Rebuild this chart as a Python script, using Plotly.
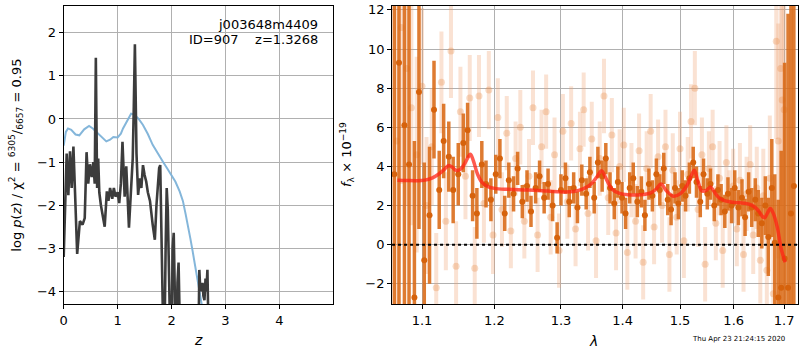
import math
import plotly.graph_objects as go

# ---------------- Left panel: log p(z) ----------------
pz_z = [0.00, 0.01, 0.03, 0.055, 0.086, 0.117, 0.148, 0.18, 0.21, 0.25, 0.30, 0.35, 0.39,
        0.424, 0.455, 0.486, 0.52, 0.55, 0.575, 0.588, 0.596, 0.606, 0.62, 0.64, 0.66, 0.69,
        0.72, 0.76, 0.80, 0.83, 0.86, 0.90, 0.93, 0.96, 1.00, 1.03, 1.06, 1.09, 1.13, 1.16,
        1.21, 1.25, 1.28, 1.30, 1.312, 1.32, 1.33, 1.35, 1.38, 1.41, 1.44, 1.47, 1.50, 1.53,
        1.56, 1.60, 1.65, 1.69, 1.72, 1.75, 1.77, 1.79, 1.81, 1.83, 1.86, 1.89, 1.91, 1.93,
        1.95, 1.99, 2.02, 2.04, 2.06, 2.08, 2.11, 2.13, 2.15, 2.17, 2.49, 2.515, 2.53, 2.545,
        2.56, 2.575, 2.59, 2.61, 2.63, 2.645, 2.665, 2.68, 2.70]
pz_logp = [-3.2, -2.8, -2.2, -0.8, -1.77, -0.75, -1.6, -0.64, -1.7, -3.13, -2.37, -2.45, -2.3,
           -0.77, -1.5, -1.05, -1.35, -1.0, -1.5, 0.2, 1.42, 0.1, -1.6, -0.92, -1.7, -2.0,
           -2.2, -2.5, -1.68, -1.9, -1.6, -1.85, -1.6, -1.8, -1.7, -1.95, -1.5, -0.53, -1.8, -1.1,
           -2.52, -1.45, -0.92, 0.3, 1.2, 1.73, 0.9, -0.8, -1.76, -1.38, -1.6, -1.07, -1.3, -1.45,
           -1.7, -1.9, -2.45, -2.8, -2.0, -1.4, -1.14, -1.07, -2.3, -6.0, -6.0, -3.0, -1.6, -2.1,
           -6.0, -6.0, -3.0, -2.64, -4.0, -6.0, -3.8, -3.33, -4.6, -6.0, -6.0, -3.5, -3.9, -3.8,
           -4.0, -3.8, -4.1, -4.2, -3.7, -4.0, -3.5, -5.0, -6.0]

prior_z = [0.00, 0.04, 0.08, 0.14, 0.22, 0.29, 0.38, 0.47, 0.54, 0.61, 0.70, 0.79, 0.86, 0.92,
           1.00, 1.06, 1.10, 1.18, 1.25, 1.31, 1.39, 1.47, 1.56, 1.65, 1.75, 1.84, 1.92, 1.99,
           2.07, 2.15, 2.21, 2.26, 2.30, 2.35, 2.39, 2.44, 2.48, 2.52, 2.56, 2.60]
prior_logp = [-0.62, -0.3, -0.22, -0.25, -0.36, -0.38, -0.24, -0.16, -0.22, -0.3, -0.4, -0.52,
              -0.48, -0.42, -0.43, -0.34, -0.22, -0.02, 0.12, 0.1, 0.0, -0.14, -0.35, -0.6,
              -0.82, -0.99, -1.15, -1.29, -1.45, -1.68, -1.9, -2.2, -2.5, -2.78, -3.06, -3.4,
              -3.75, -4.02, -4.3, -4.6]

# ---------------- Right panel: spectrum ----------------
model_wave = [1.068, 1.080, 1.092, 1.104, 1.114, 1.122, 1.130, 1.136, 1.141, 1.146, 1.152,
              1.158, 1.163, 1.166, 1.170, 1.176, 1.182, 1.190, 1.200, 1.220, 1.250, 1.280,
              1.300, 1.320, 1.335, 1.348, 1.358, 1.365, 1.372, 1.382, 1.395, 1.410, 1.430,
              1.448, 1.458, 1.466, 1.476, 1.488, 1.500, 1.512, 1.520, 1.526, 1.532, 1.540,
              1.548, 1.556, 1.562, 1.570, 1.580, 1.592, 1.605, 1.620, 1.635, 1.648, 1.656,
              1.661, 1.666, 1.672, 1.678, 1.686, 1.694, 1.702]
model_flux = [3.3, 3.28, 3.27, 3.3, 3.42, 3.6, 3.85, 4.05, 3.95, 3.8, 3.85, 4.15, 4.5, 4.62,
              4.3, 3.6, 3.2, 2.98, 2.88, 2.83, 2.8, 2.74, 2.7, 2.72, 2.85, 3.1, 3.5, 3.78, 3.4,
              2.85, 2.62, 2.55, 2.55, 2.65, 2.85, 3.1, 2.75, 2.48, 2.6, 3.0, 3.5, 3.8, 3.3, 2.75,
              2.78, 2.95, 2.75, 2.45, 2.28, 2.2, 2.15, 2.12, 2.02, 1.75, 1.45, 1.38, 1.6, 1.85,
              1.6, 0.9, -0.2, -0.9]

dark_wave = [1.064, 1.070, 1.077, 1.083, 1.090, 1.096, 1.103, 1.110, 1.116, 1.123, 1.129,
             1.136, 1.142, 1.149, 1.156, 1.162, 1.169, 1.175, 1.182, 1.188, 1.195, 1.202,
             1.208, 1.215, 1.221, 1.228, 1.234, 1.241, 1.248, 1.254, 1.261, 1.267, 1.274,
             1.280, 1.287, 1.294, 1.300, 1.307, 1.313, 1.320, 1.326, 1.333, 1.340, 1.346,
             1.353, 1.359, 1.366, 1.372, 1.379, 1.386, 1.392, 1.399, 1.405, 1.412, 1.418,
             1.425, 1.432, 1.438, 1.445, 1.451, 1.458, 1.464, 1.471, 1.478, 1.484, 1.491,
             1.497, 1.504, 1.510, 1.517, 1.524, 1.530, 1.537, 1.543, 1.550, 1.556, 1.563,
             1.570, 1.576, 1.583, 1.589, 1.596, 1.602, 1.609, 1.616, 1.622, 1.629, 1.635,
             1.642, 1.648, 1.655, 1.662, 1.668, 1.675, 1.681, 1.688, 1.694, 1.701, 1.708,
             1.714, 1.720]
dark_flux = [3.6, 9.3, 6.1, 4.1, -2.7, 7.8, -0.8, 1.5, 6.9, 2.8, 5.3, 4.5, 2.8, 3.6, 5.2,
             5.85, 2.5, 1.6, 4.1, 3.1, 2.3, 3.6, 4.4, 1.6, 3.3, 2.6, 3.9, 2.2, 3.0, 1.7, 2.9,
             3.5, 2.4, 3.1, 2.0, 0.35, 2.8, 3.4, 2.2, 2.9, 1.9, 3.3, 2.6, 3.7, 2.4, 4.2, 3.5,
             4.4, 2.9, 2.1, 3.2, 2.4, 1.6, 2.9, 3.4, 2.2, 2.7, 1.5, 3.1, 2.5, 3.6, 2.8, 3.9,
             2.3, 1.8, 2.9, 2.1, 3.0, 2.5, 3.4, 4.2, 3.2, 2.2, 3.6, 2.6, 3.1, 2.0, 2.8, 2.3,
             1.7, 2.6, 2.0, 2.9, 1.9, 2.4, 1.4, 2.7, 1.9, 2.3, 1.6, 1.1, 2.0, 0.4, 2.9, 0.1,
             -2.7, -2.2, -0.7, -2.2, 1.6, 3.0]
dark_err = [12, 14, 10, 9, 8, 7, 5, 3.5, 2.5, 2.0, 1.9, 1.8, 1.7, 1.6, 1.5, 1.4, 1.3, 1.3,
            1.2, 1.2, 1.1, 1.0, 1.0, 0.9, 0.9, 0.9, 0.85, 0.85, 0.8, 0.8, 0.8, 0.8, 0.8, 0.8,
            0.8, 0.8, 0.8, 0.8, 0.8, 0.8, 0.8, 0.8, 0.8, 0.8, 0.8, 0.8, 0.8, 0.8, 0.8, 0.8,
            0.8, 0.8, 0.8, 0.8, 0.8, 0.8, 0.8, 0.8, 0.8, 0.8, 0.8, 0.8, 0.8, 0.8, 0.8, 0.8,
            0.8, 0.8, 0.8, 0.8, 0.8, 0.8, 0.8, 0.8, 0.8, 0.8, 0.8, 0.8, 0.8, 0.85, 0.85, 0.9,
            0.9, 0.9, 0.95, 0.95, 1.0, 1.0, 1.1, 1.2, 1.3, 1.5, 2.0, 2.5, 3.5, 5, 7, 10, 14,
            16, 18]

light_wave = [1.067, 1.073, 1.080, 1.086, 1.093, 1.100, 1.106, 1.113, 1.119, 1.126, 1.132,
              1.139, 1.146, 1.152, 1.159, 1.165, 1.172, 1.178, 1.185, 1.192, 1.198, 1.205,
              1.211, 1.218, 1.224, 1.231, 1.238, 1.244, 1.251, 1.257, 1.264, 1.270, 1.277,
              1.284, 1.290, 1.297, 1.303, 1.310, 1.316, 1.323, 1.330, 1.336, 1.343, 1.349,
              1.356, 1.362, 1.369, 1.376, 1.382, 1.389, 1.395, 1.402, 1.408, 1.415, 1.422,
              1.428, 1.435, 1.441, 1.448, 1.454, 1.461, 1.468, 1.474, 1.481, 1.487, 1.494,
              1.500, 1.507, 1.514, 1.520, 1.527, 1.533, 1.540, 1.546, 1.553, 1.560, 1.566,
              1.573, 1.579, 1.586, 1.592, 1.599, 1.606, 1.612, 1.619, 1.625, 1.632, 1.638,
              1.645, 1.652, 1.658, 1.665, 1.671, 1.678, 1.684, 1.688, 1.693, 1.696, 1.700]
light_flux = [5.3, 11.1, 9.0, 7.0, 4.6, 8.1, 2.0, 5.0, -2.2, 8.3, 1.2, 9.9, -1.1, 6.8, 3.5,
              7.5, -1.2, 7.6, 2.1, 7.9, 0.5, 6.5, 1.8, 5.7, 0.7, 4.4, 6.0, 1.2, 3.5, 7.0, 0.5,
              5.0, 6.8, 1.4, 4.6, -0.3, 5.8, 2.2, 6.2, 0.8, 4.9, 6.9, 1.6, 5.4, 0.2, 4.4, 7.6,
              2.4, 5.6, 0.6, 4.0, 5.1, -0.4, 3.3, 1.2, 4.8, -0.9, 3.9, 5.8, 0.9, 4.5, 2.0, 5.0,
              -0.5, 3.8, 1.4, 4.9, 0.2, 3.6, 6.3, 8.0, 1.8, 4.6, -1.0, 3.9, 5.0, 1.1, 3.4,
              -0.3, 4.2, 1.9, 3.0, 0.8, 3.3, -0.5, 2.6, 4.1, 0.5, 2.9, -0.8, 2.5, -1.3, 3.4,
              -2.5, 10.4, 5.3, 9.0, 7.4, 6.9]
light_err = [9, 8, 7, 6, 5, 4, 3.5, 3, 2.8, 2.6, 2.5, 2.4, 2.3, 2.3, 2.2, 2.2, 2.1, 2.1, 2.0,
             2.0, 2.0, 2.0, 1.9, 1.9, 1.9, 1.9, 1.9, 1.9, 1.9, 1.9, 1.9, 1.9, 1.9, 1.9, 1.9,
             1.9, 1.9, 1.9, 1.9, 1.9, 1.9, 1.9, 1.9, 1.9, 1.9, 1.9, 1.9, 1.9, 1.9, 1.9, 1.9,
             1.9, 1.9, 1.9, 1.9, 1.9, 1.9, 1.9, 1.9, 1.9, 1.9, 1.9, 1.9, 1.9, 1.9, 1.9, 1.9,
             1.9, 1.9, 1.9, 1.9, 1.9, 1.9, 1.9, 1.9, 1.9, 1.9, 1.9, 1.9, 1.9, 1.9, 1.9, 1.9,
             1.9, 1.9, 1.9, 2.0, 2.0, 2.1, 2.2, 2.4, 2.8, 3.2, 4, 5, 6, 7, 8, 9]

left_xticks = [0, 1, 2, 3, 4]
left_yticks = [-4, -3, -2, -1, 0, 1, 2]
right_xticks = [1.1, 1.2, 1.3, 1.4, 1.5, 1.6, 1.7]
right_yticks = [-2, 0, 2, 4, 6, 8, 10, 12]

FONT = "DejaVu Sans"
W, H = 800, 350

fig = go.Figure()

fig.add_trace(go.Scatter(x=prior_z, y=prior_logp, mode="lines",
                         line=dict(color="rgba(125,178,216,0.95)", width=2),
                         xaxis="x", yaxis="y", showlegend=False))
fig.add_trace(go.Scatter(x=pz_z, y=pz_logp, mode="lines",
                         line=dict(color="#3c3c3c", width=2.6),
                         xaxis="x", yaxis="y", showlegend=False))

fig.add_trace(go.Scatter(x=light_wave, y=light_flux, mode="markers",
                         marker=dict(color="rgba(232,135,65,0.3)", size=7),
                         error_y=dict(type="data", array=light_err, color="rgba(238,160,110,0.3)",
                                      thickness=4, width=0),
                         xaxis="x2", yaxis="y2", showlegend=False))
fig.add_trace(go.Scatter(x=dark_wave, y=dark_flux, mode="markers",
                         marker=dict(color="rgb(214,98,12)", size=6),
                         error_y=dict(type="data", array=dark_err, color="rgba(218,105,20,0.88)",
                                      thickness=3.5, width=0),
                         xaxis="x2", yaxis="y2", showlegend=False))
fig.add_trace(go.Scatter(x=model_wave, y=model_flux, mode="lines", line_shape="spline",
                         line=dict(color="rgba(255,35,20,0.75)", width=3.5),
                         xaxis="x2", yaxis="y2", showlegend=False))

fig.add_shape(type="line", xref="x2 domain", x0=0, x1=1, yref="y2", y0=0, y1=0,
              line=dict(color="black", width=2, dash="dot"), layer="above")

axis_common = dict(showline=True, linecolor="black", linewidth=1, mirror=True,
                   ticks="outside", ticklen=4, tickcolor="black", ticklabeloverflow="allow",
                   showgrid=True, gridcolor="#b0b0b0", gridwidth=1, zeroline=False,
                   tickfont=dict(family=FONT, size=13, color="black"))

lo, hi = 1.0611, 1.7286
fig.update_layout(
    width=W, height=H,
    margin=dict(l=0, r=0, t=0, b=0),
    paper_bgcolor="white", plot_bgcolor="white",
    font=dict(family=FONT, color="black"),
    xaxis=dict(domain=[60 / W, 331 / W], range=[0, 5.0], tickvals=left_xticks,
               anchor="y", **axis_common),
    yaxis=dict(domain=[1 - 304 / H, 1 - 3 / H], range=[-4.3, 2.62], tickvals=left_yticks,
               ticktext=[("−" + str(-v)) if v < 0 else str(v) for v in left_yticks],
               anchor="x", **axis_common),
    xaxis2=dict(domain=[390 / W, 798 / W], type="log",
                range=[math.log10(lo), math.log10(hi)], tickvals=right_xticks,
                ticktext=[f"{v:.1f}" for v in right_xticks], anchor="y2", **axis_common),
    yaxis2=dict(domain=[1 - 304 / H, 1 - 3 / H], range=[-3.05, 12.2], tickvals=right_yticks,
                ticktext=[("−" + str(-v)) if v < 0 else str(v) for v in right_yticks],
                anchor="x2", **axis_common),
)

def px(xp, yp):
    return xp / W, 1 - yp / H

anns = [
    (318, 22, "j003648m4409", "right", 13, 0),
    (318, 37, "ID=907\u00a0\u00a0\u00a0\u00a0z=1.3268", "right", 13, 0),
    (195, 340, "<i>z</i>", "center", 14, 0),
    (592, 341, "<i>λ</i>", "center", 14, 0),
    (12, 153, "log <i>p</i>(<i>z</i>) / χ<sup>2</sup> = <sup>6305</sup>/<sub>6657</sub> = 0.95",
     "center", 13, -90),
    (344, 153, "<i>f</i><sub>λ</sub> × 10<sup>−19</sup>", "center", 13, -90),
    (787, 339, "Thu Apr 23 21:24:15 2020", "right", 7, 0),
]
for xp, yp, txt, al, sz, ang in anns:
    ax, ay = px(xp, yp)
    fig.add_annotation(x=ax, y=ay, xref="paper", yref="paper", text=txt, showarrow=False,
                       xanchor=al, yanchor="middle", textangle=ang,
                       font=dict(family=FONT, size=sz, color="black"))

fig.write_html("out.html", config={"displayModeBar": False},
               post_script="document.body.style.margin='0';document.body.style.padding='0';")
